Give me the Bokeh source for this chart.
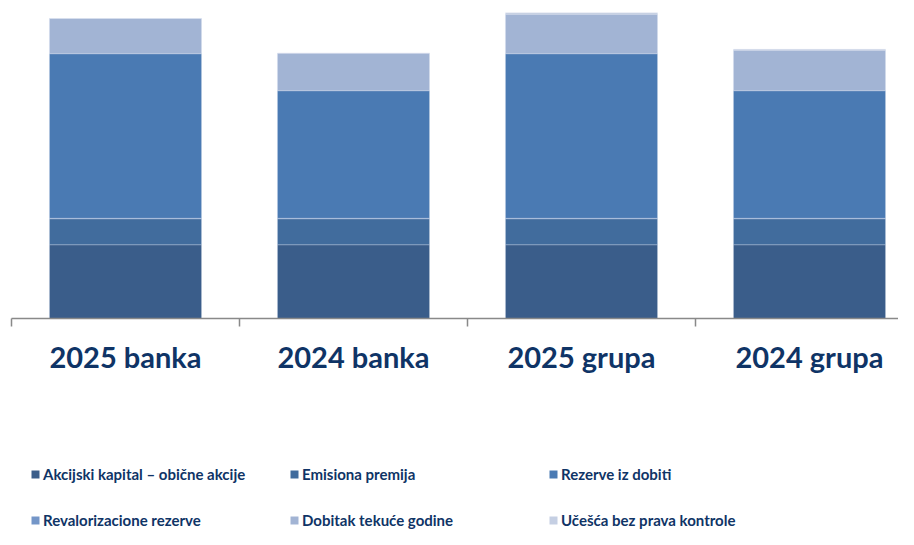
from bokeh.plotting import figure
from bokeh.layouts import column
from bokeh.models import Range1d, FixedTicker, Legend, LegendItem, ColumnDataSource
from bokeh.embed import file_html
from bokeh.resources import INLINE

categories = ["2025 banka", "2024 banka", "2025 grupa", "2024 grupa"]
series_names = ["Akcijski kapital – obične akcije", "Emisiona premija", "Rezerve iz dobiti",
                "Revalorizacione rezerve", "Dobitak tekuće godine", "Učešća bez prava kontrole"]
akcijski_kapital = [29.5, 29.5, 29.5, 29.5]
emisiona_premija = [10.4, 10.4, 10.4, 10.4]
revalorizacione_rezerve = [0.2, 0.2, 0.2, 0.2]
rezerve_iz_dobiti = [65.8, 51.0, 65.8, 51.0]
dobitak_tekuce_godine = [14.1, 15.0, 15.8, 16.2]
ucesca_bez_kontrole = [0.0, 0.0, 0.6, 0.4]
colors = ["#3A5D8A", "#416C9D", "#4A7AB3", "#7496C8", "#A2B4D4", "#C5CFE3"]

x_pos = [i + 0.5 for i in range(len(categories))]
# stacking order (bottom to top)
stack_keys = ["akc", "emi", "rev", "rez", "dob", "uce"]
stack_data = [akcijski_kapital, emisiona_premija, revalorizacione_rezerve,
              rezerve_iz_dobiti, dobitak_tekuce_godine, ucesca_bez_kontrole]
stack_names = [series_names[0], series_names[1], series_names[3],
               series_names[2], series_names[4], series_names[5]]
stack_colors = [colors[0], colors[1], colors[3], colors[2], colors[4], colors[5]]

src = ColumnDataSource(dict(x=x_pos, **{k: v for k, v in zip(stack_keys, stack_data)}))

W = 898
p = figure(width=W, height=390, output_backend="svg", toolbar_location=None,
           x_range=Range1d(0, (W - 11) / 228), y_range=Range1d(0, 127.2),
           min_border_left=11, min_border_right=0, min_border_top=0, min_border_bottom=72)

p.vbar_stack(stack_keys, x="x", width=0.667, source=src, color=stack_colors,
             line_color="#dce3ef", line_width=0.8, line_alpha=0.35)

p.yaxis.visible = False
p.xgrid.visible = False
p.ygrid.visible = False
p.outline_line_color = None

ax = p.xaxis[0]
ax.ticker = FixedTicker(ticks=x_pos, minor_ticks=list(range(len(categories) + 1)))
ax.major_label_overrides = {x: c for x, c in zip(x_pos, categories)}
ax.major_tick_out = 0
ax.major_tick_in = 0
ax.minor_tick_out = 8
ax.minor_tick_in = 0
ax.minor_tick_line_color = "#898989"
ax.minor_tick_line_width = 1.5
ax.axis_line_color = "#898989"
ax.axis_line_width = 1.5
ax.major_label_text_font = "Lato"
ax.major_label_text_font_style = "bold"
ax.major_label_text_font_size = "29px"
ax.major_label_text_color = "#0F3466"
ax.major_label_standoff = 12

# legend panel below
q = figure(width=W, height=529 - 390, output_backend="svg", toolbar_location=None,
           x_range=Range1d(0, (W - 11) / 228), y_range=Range1d(1000, 1001),
           min_border_left=0, min_border_right=0, min_border_top=0, min_border_bottom=0)
q.axis.visible = False
q.grid.visible = False
q.outline_line_color = None
lrend = q.vbar_stack(stack_keys, x="x", width=0.667, source=src, color=stack_colors,
                     line_color=None)
rmap = dict(zip(stack_names, lrend))

items = [LegendItem(label=n, renderers=[rmap[n]]) for n in series_names]
legend = Legend(items=items, orientation="horizontal", ncols=3,
                location=(19, 0), padding=0, margin=0, spacing=28,
                glyph_width=10, glyph_height=10, label_standoff=3,
                label_width=218, label_height=18,
                label_text_font="Lato", label_text_font_style="bold",
                label_text_font_size="15px", label_text_color="#0F3466",
                border_line_alpha=0, background_fill_alpha=0)
q.add_layout(legend, "center")

layout = column(p, q, spacing=0)
open("out.html", "w").write(file_html(layout, INLINE))
